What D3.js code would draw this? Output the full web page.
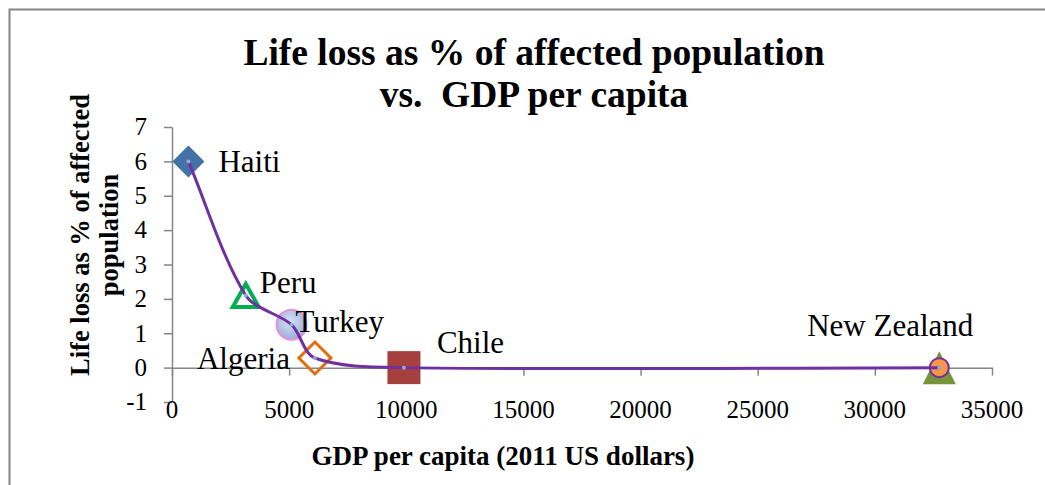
<!DOCTYPE html>
<html>
<head>
<meta charset="utf-8">
<script src="https://cdn.jsdelivr.net/npm/d3@7"></script>
<style>
  html, body { margin: 0; padding: 0; background: #fff; }
  svg { display: block; }
</style>
</head>
<body>
<svg id="chart" width="1045" height="485"></svg>
<script>
// Earthquake life loss vs. GDP per capita
const countries = ["Haiti", "Peru", "Turkey", "Algeria", "Chile", "New Zealand"];
const gdpPerCapita = [700, 3150, 5100, 6100, 9900, 32750];
const lifeLossPct = [6.0, 2.1, 1.25, 0.28, 0.0, 0.0];
const xTicks = [0, 5000, 10000, 15000, 20000, 25000, 30000, 35000];
const yTicks = [-1, 0, 1, 2, 3, 4, 5, 6, 7];
const titleLines = ["Life loss as % of affected population", "vs.  GDP per capita"];
const yTitleLines = ["Life loss as % of affected", "population"];
const xTitle = "GDP per capita (2011 US dollars)";

const FONT = "'Liberation Serif', 'Times New Roman', 'DejaVu Serif', serif";
const svg = d3.select("#chart");

// chart-area frame
svg.append("rect")
  .attr("x", 9.5).attr("y", 9.5)
  .attr("width", 1200).attr("height", 700)
  .attr("fill", "#fff")
  .attr("stroke", "#868686").attr("stroke-width", 2);

const x = d3.scaleLinear().domain([0, 35000]).range([172, 992]);
const y = d3.scaleLinear().domain([-1, 7]).range([402, 127]);

const axisColor = "#868686";

// y axis
const yAxis = svg.append("g").attr("transform", `translate(${x(0)},0)`)
  .call(d3.axisLeft(y).tickValues(yTicks).tickSizeInner(8).tickSizeOuter(0).tickFormat(""));
yAxis.select(".domain").attr("stroke", axisColor).attr("stroke-width", 1.5);
yAxis.selectAll(".tick line").attr("stroke", axisColor).attr("stroke-width", 1.5);

// x axis crossing at y = 0
const xAxis = svg.append("g").attr("transform", `translate(0,${y(0)})`)
  .call(d3.axisBottom(x).tickValues(xTicks).tickSizeInner(8).tickSizeOuter(0).tickFormat(""));
xAxis.select(".domain").attr("stroke", axisColor).attr("stroke-width", 1.5);
xAxis.selectAll(".tick line").attr("stroke", axisColor).attr("stroke-width", 1.5);

const txt = sel => sel.attr("font-family", FONT).attr("fill", "#000");

// tick labels (x labels sit at the bottom of the plot)
svg.append("g").selectAll("text").data(yTicks).join("text").call(txt)
  .attr("x", 147).attr("y", d => y(d))
  .attr("dy", "0.33em")
  .attr("text-anchor", "end")
  .attr("font-size", 25)
  .text(d => d);

svg.append("g").selectAll("text").data(xTicks).join("text").call(txt)
  .attr("x", d => x(d)).attr("y", 418)
  .attr("text-anchor", "middle")
  .attr("font-size", 25)
  .text(d => d);

// titles
svg.append("g").selectAll("text").data(titleLines).join("text").call(txt)
  .attr("x", 534).attr("y", (d, i) => 65 + i * 42)
  .attr("text-anchor", "middle")
  .attr("xml:space", "preserve")
  .style("white-space", "pre")
  .attr("font-size", 37.5).attr("font-weight", "bold")
  .text(d => d);

svg.append("g").selectAll("text").data(yTitleLines).join("text").call(txt)
  .attr("transform", (d, i) => `translate(${89 + i * 29},235) rotate(-90)`)
  .attr("text-anchor", "middle")
  .attr("font-size", 26.5).attr("font-weight", "bold")
  .text(d => d);

svg.append("text").call(txt)
  .attr("x", 503).attr("y", 465)
  .attr("text-anchor", "middle")
  .attr("font-size", 27).attr("font-weight", "bold")
  .text(xTitle);

// markers, one style per country
const pts = countries.map((c, i) => ({ name: c, gx: gdpPerCapita[i], ly: lifeLossPct[i] }));
const marks = svg.append("g");

function draw(name, fn) {
  const d = pts.find(p => p.name === name);
  fn(x(d.gx), y(d.ly));
}

const defs = svg.append("defs");
const grad = defs.append("radialGradient").attr("id", "turkeyFill")
  .attr("cx", "45%").attr("cy", "40%").attr("r", "65%");
grad.append("stop").attr("offset", "0%").attr("stop-color", "#d6e1f3");
grad.append("stop").attr("offset", "100%").attr("stop-color", "#93acd9");

const diamond = (cx, cy, r) => `M${cx},${cy - r}L${cx + r},${cy}L${cx},${cy + r}L${cx - r},${cy}Z`;
const triangle = (cx, cy, w, h) => `M${cx},${cy - h / 2}L${cx + w / 2},${cy + h / 2}L${cx - w / 2},${cy + h / 2}Z`;

draw("Haiti", (cx, cy) => marks.append("path").attr("d", diamond(cx, cy, 16)).attr("fill", "#4471a6"));
draw("Peru", (cx, cy) => marks.append("path").attr("d", triangle(cx, cy, 26, 23))
  .attr("fill", "none").attr("stroke", "#00b050").attr("stroke-width", 4).attr("stroke-linejoin", "miter"));
draw("Turkey", (cx, cy) => marks.append("circle").attr("cx", cx).attr("cy", cy).attr("r", 15)
  .attr("fill", "url(#turkeyFill)").attr("stroke", "#e98fdc").attr("stroke-width", 2));
draw("Algeria", (cx, cy) => marks.append("path").attr("d", diamond(cx, cy, 16))
  .attr("fill", "none").attr("stroke", "#e46c0a").attr("stroke-width", 3));
draw("Chile", (cx, cy) => marks.append("rect").attr("x", cx - 16.5).attr("y", cy - 16.5)
  .attr("width", 33).attr("height", 33).attr("fill", "#a5403d"));
draw("New Zealand", (cx, cy) => {
  marks.append("path").attr("d", triangle(cx, cy, 33, 33)).attr("fill", "#77933c");
  marks.append("circle").attr("cx", cx).attr("cy", cy).attr("r", 9.5)
    .attr("fill", "#f79646").attr("stroke", "#7030a0").attr("stroke-width", 2);
});

// Smoothing curve for d3.line: cubic Bezier segments whose control arms follow the
// neighbour-to-neighbour direction and scale with each segment's own length,
// so unevenly spaced points do not overshoot.
function curveSmoothArms(context) {
  const k = 0.3;
  let p = [];
  return {
    areaStart() {}, areaEnd() {},
    lineStart() { p = []; },
    point(px, py) { p.push([+px, +py]); },
    lineEnd() {
      const n = p.length;
      if (!n) return;
      const dir = i => {
        const a = p[Math.max(i - 1, 0)], b = p[Math.min(i + 1, n - 1)];
        const dx = b[0] - a[0], dy = b[1] - a[1], L = Math.hypot(dx, dy) || 1;
        return [dx / L, dy / L];
      };
      context.moveTo(p[0][0], p[0][1]);
      for (let i = 0; i < n - 1; i++) {
        const a = p[i], b = p[i + 1];
        const len = Math.hypot(b[0] - a[0], b[1] - a[1]);
        const da = dir(i), db = dir(i + 1);
        context.bezierCurveTo(
          a[0] + da[0] * len * k, a[1] + da[1] * len * k,
          b[0] - db[0] * len * k, b[1] - db[1] * len * k,
          b[0], b[1]);
      }
    }
  };
}

// smoothed trend line through all points
const line = d3.line().x(d => x(d.gx)).y(d => y(d.ly)).curve(curveSmoothArms);
svg.append("path").datum(pts).attr("d", line)
  .attr("fill", "none").attr("stroke", "#7030a0").attr("stroke-width", 3);

svg.append("g").selectAll("circle").data(pts).join("circle")
  .attr("cx", d => x(d.gx)).attr("cy", d => y(d.ly)).attr("r", 2)
  .attr("fill", "#8fa9d8");

// data labels
const labelOffset = {
  "Haiti": [30, 11, "start"],
  "Peru": [14, -2, "start"],
  "Turkey": [4, 7, "start"],
  "Algeria": [-25, 11, "end"],
  "Chile": [33, -15, "start"],
  "New Zealand": [34, -32, "end"]
};
svg.append("g").selectAll("text").data(pts).join("text").call(txt)
  .attr("x", d => x(d.gx) + labelOffset[d.name][0])
  .attr("y", d => y(d.ly) + labelOffset[d.name][1])
  .attr("text-anchor", d => labelOffset[d.name][2])
  .attr("font-size", 31)
  .text(d => d.name);
</script>
</body>
</html>
